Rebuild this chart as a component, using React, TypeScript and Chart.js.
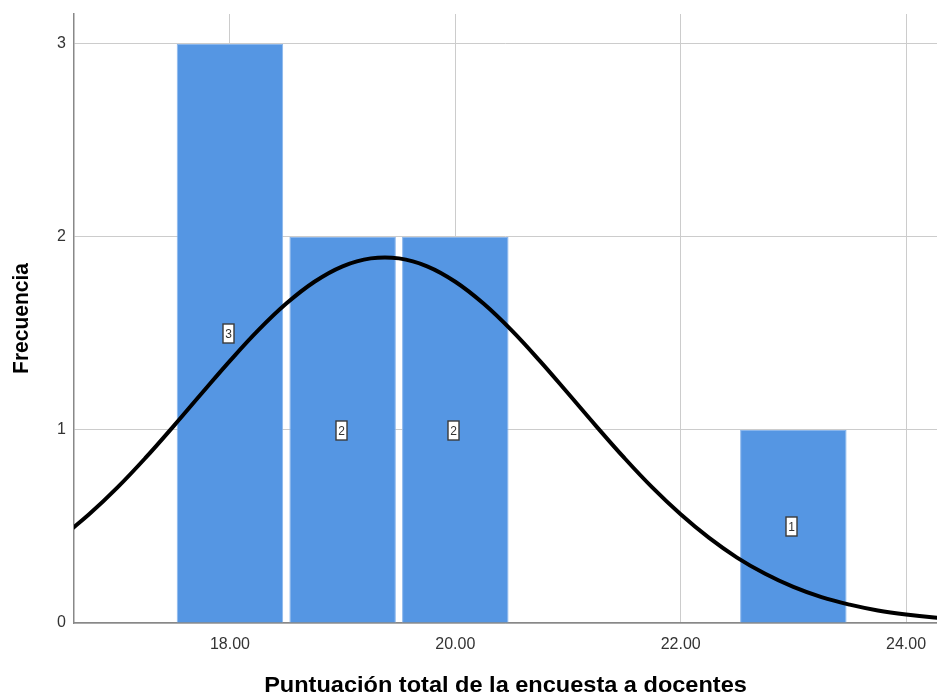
import React, { useEffect, useRef } from "react";
import { Chart, registerables } from "chart.js";

Chart.register(...registerables);

// Histogram bins (bin centre) and their counts
const binCenters = [18, 19, 20, 23];
const binCounts = [3, 2, 2, 1];

// Fitted normal curve, sampled along the x axis
const curveX = [
  16.5, 16.75, 17, 17.25, 17.5, 17.75, 18, 18.25, 18.5, 18.75, 19, 19.25, 19.5,
  19.75, 20, 20.25, 20.5, 20.75, 21, 21.25, 21.5, 21.75, 22, 22.25, 22.5, 22.75,
  23, 23.25, 23.5, 23.75, 24, 24.25, 24.5,
];
const curveY = [
  0.442, 0.563, 0.701, 0.855, 1.02, 1.19, 1.358, 1.516, 1.655, 1.768, 1.848,
  1.889, 1.889, 1.848, 1.768, 1.655, 1.516, 1.358, 1.19, 1.02, 0.855, 0.701,
  0.563, 0.442, 0.339, 0.255, 0.187, 0.134, 0.095, 0.065, 0.044, 0.029, 0.019,
];

const xTicks = [18, 20, 22, 24];
const yTicks = [0, 1, 2, 3];
const xRange = [16.616, 24.275];
const yRange = [0, 3.155];

const xTitle = "Puntuación total de la encuesta a docentes";
const yTitle = "Frecuencia";

const FONT = "'Liberation Sans', Arial, sans-serif";

// Count boxes in the middle of each bar, plus the two axis titles
const overlayPlugin = {
  id: "overlay",
  afterDatasetsDraw(chart: any) {
    const { ctx } = chart;
    const xs = chart.scales.x;
    const ys = chart.scales.y;
    ctx.save();
    ctx.font = `12px ${FONT}`;
    ctx.textAlign = "center";
    ctx.textBaseline = "middle";
    binCenters.forEach((c, i) => {
      const v = binCounts[i];
      const px = Math.round(xs.getPixelForValue(c)) - 1.5;
      const py = Math.round(ys.getPixelForValue(v / 2)) + 0.5;
      const w = 11;
      const h = 19;
      ctx.fillStyle = "#ffffff";
      ctx.fillRect(px - w / 2, py - h / 2, w, h);
      ctx.strokeStyle = "#3a3a3a";
      ctx.lineWidth = 1.4;
      ctx.strokeRect(px - w / 2, py - h / 2, w, h);
      ctx.fillStyle = "#333333";
      ctx.fillText(String(v), px, py + 1);
    });
    ctx.restore();
  },
  afterDraw(chart: any) {
    const { ctx, chartArea } = chart;
    ctx.save();
    ctx.fillStyle = "#000000";
    ctx.textAlign = "center";
    ctx.textBaseline = "middle";
    ctx.save();
    ctx.font = `bold 22px ${FONT}`;
    ctx.translate((chartArea.left + chartArea.right) / 2, 686);
    ctx.scale(1.07, 1);
    ctx.fillText(xTitle, 0, 0);
    ctx.restore();
    ctx.font = `bold 21px ${FONT}`;
    ctx.translate(22, (chartArea.top + chartArea.bottom) / 2);
    ctx.rotate(-Math.PI / 2);
    ctx.scale(1, 1.08);
    ctx.fillText(yTitle, 0, 0);
    ctx.restore();
  },
};

export default function App() {
  const canvasRef = useRef<HTMLCanvasElement | null>(null);

  useEffect(() => {
    if (!canvasRef.current) return;
    const chart = new Chart(canvasRef.current, {
      type: "bar",
      data: {
        datasets: [
          {
            type: "line",
            data: curveX.map((x, i) => ({ x, y: curveY[i] })),
            borderColor: "#000000",
            borderWidth: 4,
            pointRadius: 0,
            tension: 0.4,
            fill: false,
            order: 0,
          } as any,
          {
            type: "bar",
            data: binCenters.map((x, i) => ({ x, y: binCounts[i] })),
            backgroundColor: "#5596e3",
            borderColor: "#8ab6ec",
            borderWidth: 1,
            barPercentage: 0.945,
            categoryPercentage: 1,
            order: 1,
          } as any,
        ],
      },
      options: {
        animation: false,
        responsive: false,
        maintainAspectRatio: false,
        layout: { padding: { top: 14, right: 0, left: 0, bottom: 0 } },
        plugins: {
          legend: { display: false },
          tooltip: { enabled: false },
          title: { display: false },
        },
        scales: {
          x: {
            type: "linear",
            offset: false,
            min: xRange[0],
            max: xRange[1],
            afterBuildTicks: (scale: any) => {
              scale.ticks = xTicks.map((v) => ({ value: v }));
            },
            afterFit: (scale: any) => {
              scale.height = 74;
              scale.paddingLeft = 0;
              scale.paddingRight = 0;
            },
            grid: { color: "#cccccc", lineWidth: 1, drawTicks: false, offset: false },
            border: { display: true, color: "#888888", width: 1.5 },
            ticks: {
              padding: 12,
              color: "#333333",
              font: { family: FONT, size: 16 },
              callback: (v: any) => Number(v).toFixed(2),
              maxRotation: 0,
            },
          },
          y: {
            type: "linear",
            min: yRange[0],
            max: yRange[1],
            afterBuildTicks: (scale: any) => {
              scale.ticks = yTicks.map((v) => ({ value: v }));
            },
            afterFit: (scale: any) => {
              scale.width = 74;
              scale.paddingTop = 0;
              scale.paddingBottom = 0;
            },
            grid: { color: "#cccccc", lineWidth: 1, drawTicks: false },
            border: { display: true, color: "#888888", width: 1.5 },
            ticks: {
              padding: 8,
              color: "#333333",
              font: { family: FONT, size: 16 },
              callback: (v: any) => String(v),
            },
          },
        },
      } as any,
      plugins: [overlayPlugin],
    });
    return () => chart.destroy();
  }, []);

  return (
    <div style={{ position: "fixed", left: 0, top: 0, width: 937, height: 697, background: "#ffffff" }}>
      <canvas ref={canvasRef} width={937} height={697} style={{ width: 937, height: 697 }} />
    </div>
  );
}
